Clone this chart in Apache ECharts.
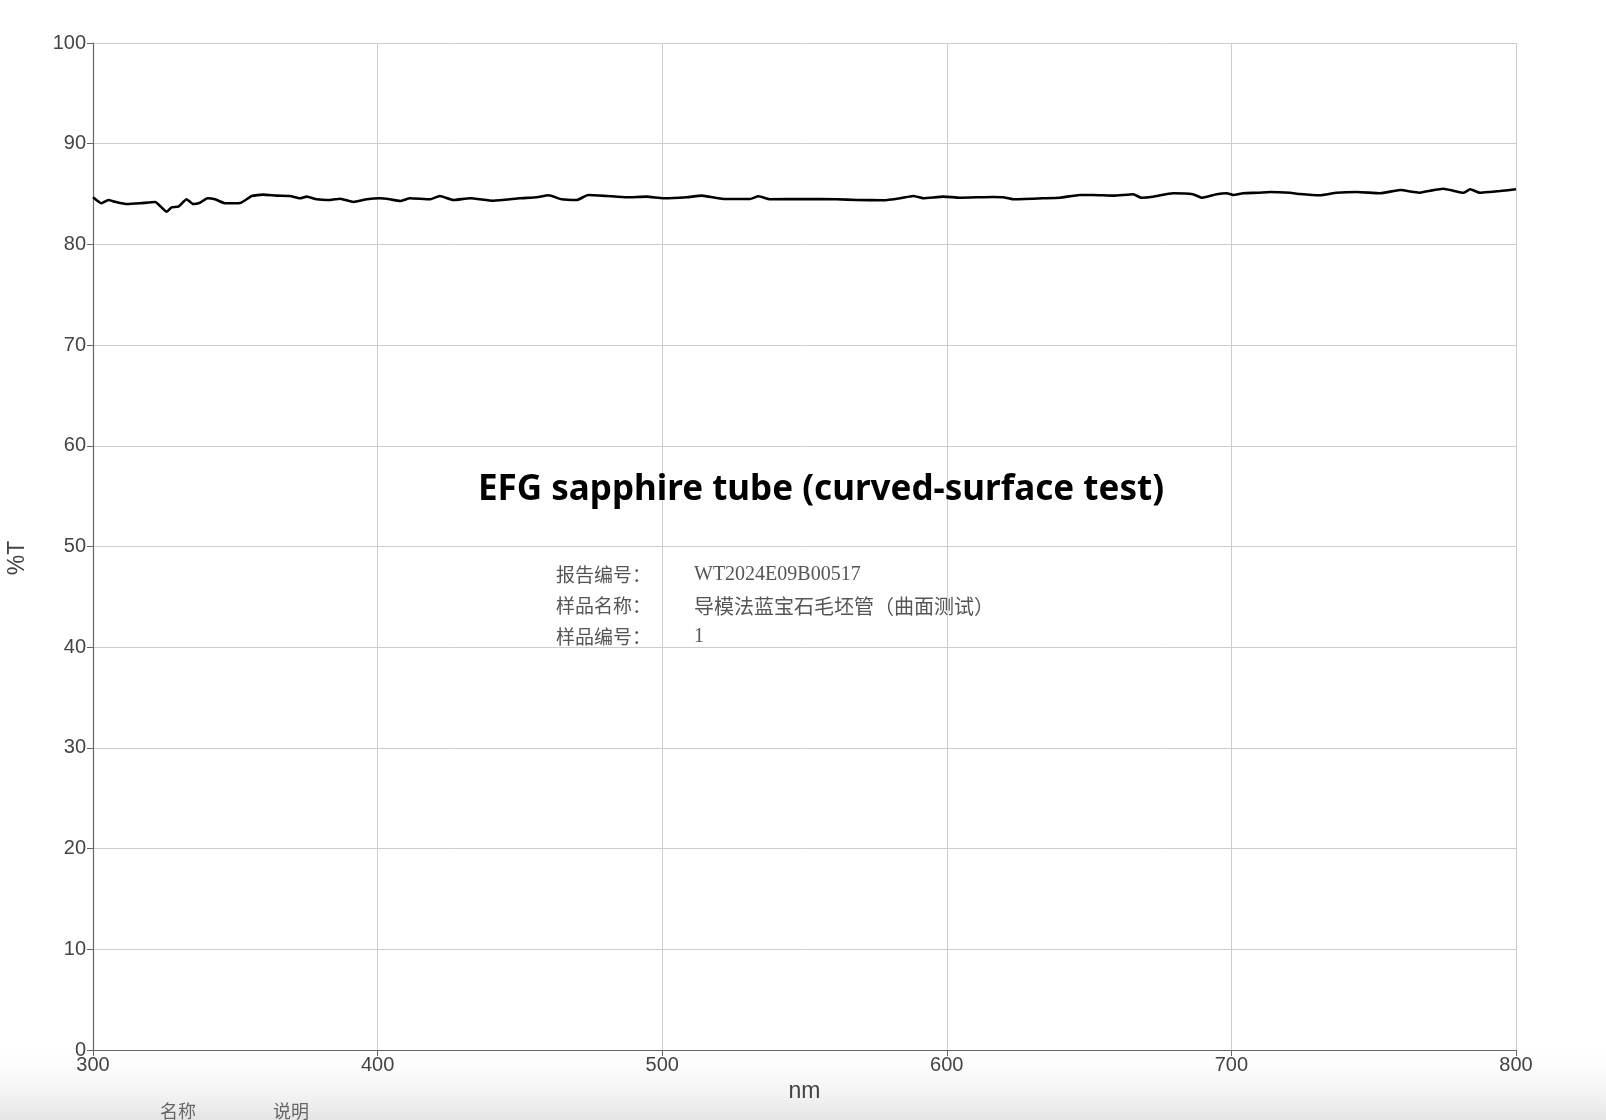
<!DOCTYPE html>
<html>
<head>
<meta charset="utf-8">
<script src="https://cdn.jsdelivr.net/npm/echarts@6/dist/echarts.min.js"></script>
<style>
html,body{margin:0;padding:0;background:#fff;}
#chart{width:1606px;height:1120px;}
</style>
</head>
<body>
<div id="chart"></div>
<script>
const wavelengths = [300,303,305.4,307.7,311.8,316.5,321.8,325.9,327.6,330,332.9,335.2,337.6,340.2,342.9,346.4,351.7,355.8,359.8,364.5,369.2,372.7,375.1,378.6,383.3,386.8,391.5,396.2,400.8,404.3,407.9,411.4,418.4,421.9,426.6,432.5,440.7,450,455.9,460,464.7,470,474,480.5,487.5,494.5,500.4,508.6,513.9,521.5,530.9,533.8,537.9,549.6,561.3,568.3,577.7,583.6,588.2,591.7,598.8,604.6,616.3,619.8,623.3,633.9,639.7,646.8,651.4,658.4,665.5,668.4,672.5,679.5,686.5,689.5,694.8,698.3,700.6,704.1,709.4,713.5,720.6,724.1,731.1,737,744,752.2,759.3,763.9,766.3,769.8,774.5,778,781.5,783.9,787.3,790.9,794.4,800];
const transmittance = [84.68,84.08,84.41,84.24,84.01,84.08,84.21,83.25,83.68,83.75,84.48,84.01,84.14,84.58,84.48,84.08,84.11,84.81,84.94,84.84,84.81,84.58,84.74,84.48,84.41,84.54,84.21,84.48,84.58,84.48,84.31,84.58,84.48,84.81,84.41,84.58,84.34,84.58,84.68,84.88,84.48,84.41,84.91,84.81,84.68,84.74,84.58,84.68,84.84,84.51,84.51,84.78,84.48,84.51,84.48,84.41,84.38,84.58,84.81,84.58,84.74,84.64,84.71,84.68,84.48,84.58,84.64,84.91,84.91,84.84,84.98,84.64,84.74,85.08,84.98,84.64,84.98,85.08,84.91,85.08,85.13,85.21,85.13,85.0,84.88,85.13,85.21,85.08,85.40,85.21,85.13,85.33,85.53,85.33,85.13,85.47,85.13,85.21,85.30,85.47];

const xTicks = [300,400,500,600,700,800];
const yTicks = [0,10,20,30,40,50,60,70,80,90,100];

const titleText = 'EFG sapphire tube (curved-surface test)';
const infoLabels = ['报告编号：','样品名称：','样品编号：'];
const infoValues = ['WT2024E09B00517','导模法蓝宝石毛坯管（曲面测试）','1'];
const footerLabels = ['名称','说明'];
const xName = 'nm';
const yName = '%T';

const chart = echarts.init(document.getElementById('chart'));

const graphics = [
  {
    type: 'rect', z: -10, silent: true,
    shape: {x: 0, y: 1040, width: 1606, height: 80},
    style: {
      fill: new echarts.graphic.LinearGradient(0, 0, 0, 1, [
        {offset: 0, color: 'rgba(255,255,255,0)'},
        {offset: 1, color: '#e4e4e4'}
      ])
    }
  },
  {
    type: 'text', x: 821, y: 490, z: 20,
    style: {text: titleText, font: 'bold 35px "Noto Sans", sans-serif', fill: '#000', align: 'center', verticalAlign: 'middle'}
  },
  {
    type: 'text', x: 18, y: 558, rotation: Math.PI / 2, z: 20,
    style: {text: yName, font: '23px "Liberation Sans", sans-serif', fill: '#444', align: 'center', verticalAlign: 'middle'}
  }
];
infoLabels.forEach((t, i) => {
  graphics.push({
    type: 'text', x: 556, y: 575 + i * 31, z: 20,
    style: {text: t, font: '19px "Noto Sans CJK SC", sans-serif', fill: '#555', verticalAlign: 'middle'}
  });
  graphics.push({
    type: 'text', x: 694, y: 575 + i * 31, z: 20,
    style: {text: infoValues[i], font: (i === 1 ? '20px "Noto Sans CJK SC", sans-serif' : '20px "Liberation Serif", serif'), fill: '#555', verticalAlign: 'middle'}
  });
});
footerLabels.forEach((t, i) => {
  graphics.push({
    type: 'text', x: 160 + i * 113, y: 1111, z: 20,
    style: {text: t, font: '18px "Noto Sans CJK SC", sans-serif', fill: '#666', verticalAlign: 'middle'}
  });
});

chart.setOption({
  backgroundColor: '#fff',
  animation: false,
  grid: {left: 93, right: 90, top: 43, bottom: 70, containLabel: false},
  graphic: graphics,
  xAxis: {
    type: 'value', min: xTicks[0], max: xTicks[xTicks.length - 1], interval: 100,
    name: xName, nameLocation: 'middle', nameGap: 29,
    nameTextStyle: {fontSize: 23, color: '#444', fontFamily: 'Liberation Sans'},
    axisLine: {show: true, onZero: false, lineStyle: {color: '#666', width: 1.2}},
    axisTick: {show: true, length: 6, lineStyle: {color: '#666'}},
    axisLabel: {fontSize: 20, color: '#444', fontFamily: 'Liberation Sans', margin: 5},
    splitLine: {show: true, lineStyle: {color: '#cdcdcd', width: 1}}
  },
  yAxis: {
    type: 'value', min: yTicks[0], max: yTicks[yTicks.length - 1], interval: 10,
    axisLine: {show: true, lineStyle: {color: '#666', width: 1.2}},
    axisTick: {show: true, length: 6, lineStyle: {color: '#666'}},
    axisLabel: {fontSize: 20, color: '#444', fontFamily: 'Liberation Sans', margin: 7},
    splitLine: {show: true, lineStyle: {color: '#cdcdcd', width: 1}}
  },
  series: [{
    type: 'line',
    data: wavelengths.map((w, i) => [w, transmittance[i]]),
    showSymbol: false,
    smooth: 0.15,
    lineStyle: {color: '#000', width: 2.6},
    z: 10
  }]
});
</script>
</body>
</html>
